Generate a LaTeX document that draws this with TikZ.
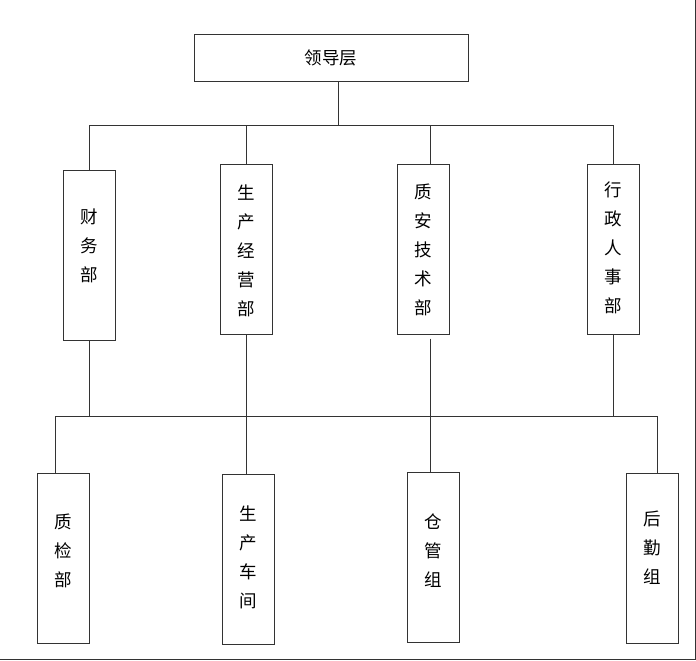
\documentclass[tikz,border=0pt]{standalone}
\usepackage{fontspec}
\newfontfamily\cjk{Noto Sans CJK SC}
\newcommand\vstack[2][0pt]{\raisebox{#1}[0pt][0pt]{\begin{tabular}{@{}c@{}}#2\end{tabular}}}
\tikzset{
  ln/.style={draw=black!80, line width=1pt},
  box/.style={ln, inner sep=0pt, font=\cjk\fontsize{17.5}{29}\selectfont},
  vbox/.style={box, minimum width=52pt, minimum height=170pt},
}
\begin{document}
\begin{tikzpicture}[x=1pt,y=-1pt]
\useasboundingbox (0,0) rectangle (696,661);
\draw[ln] (695,0) coordinate (fr1) -- (695,659.5) coordinate (fr2) -- (0,659.5) coordinate (fr3);
% top
\node[box, minimum width=274pt, minimum height=46pt] (top) at (331,58) {领导层};
% level 2
\node[vbox] (cw) at (89,255) {\vstack[4pt]{财\\务\\部}};
\node[vbox] (sc) at (246,249) {\vstack[-7pt]{生\\产\\经\\营\\部}};
\node[vbox] (za) at (423,249) {\vstack[-6pt]{质\\安\\技\\术\\部}};
\node[vbox] (xz) at (613,249) {\vstack[-4pt]{行\\政\\人\\事\\部}};
% level 3
\node[vbox] (zj) at (63,558) {\vstack[2pt]{质\\检\\部}};
\node[vbox] (cj) at (248,559) {\vstack[-4pt]{生\\产\\车\\间}};
\node[vbox] (cg) at (433,557) {\vstack[1pt]{仓\\管\\组}};
\node[vbox] (hq) at (652,558) {\vstack[4.5pt]{后\\勤\\组}};
% bus coordinates
\coordinate (s1) at (338,125);
\coordinate (b1) at (0,125);
\coordinate (b2) at (0,416);
\coordinate (xa) at (430,0);
\coordinate (xzj) at (55,0);
\coordinate (xhq) at (657,0);
% top stem and bus
\draw[ln] (top.south -| s1) -- (s1);
\draw[ln] (cw.north |- b1) -- (xz.north |- b1);
\draw[ln] (cw.north |- b1) -- (cw.north);
\draw[ln] (sc.north |- b1) -- (sc.north);
\draw[ln] (xa |- b1) -- (xa |- za.north);
\draw[ln] (xz.north |- b1) -- (xz.north);
% up from level 2 to lower bus
\draw[ln] (cw.south) -- (cw.south |- b2);
\draw[ln] (sc.south) -- (sc.south |- b2);
\draw[ln, shorten <=4pt] (xa |- za.south) -- (xa |- b2);
\draw[ln] (xz.south) -- (xz.south |- b2);
% lower bus
\draw[ln] (xzj |- b2) -- (xhq |- b2);
\draw[ln] (xzj |- b2) -- (xzj |- zj.north);
\draw[ln] (sc.south |- b2) -- (sc.south |- cj.north);
\draw[ln] (xa |- b2) -- (xa |- cg.north);
\draw[ln] (xhq |- b2) -- (xhq |- hq.north);
\end{tikzpicture}
\end{document}
